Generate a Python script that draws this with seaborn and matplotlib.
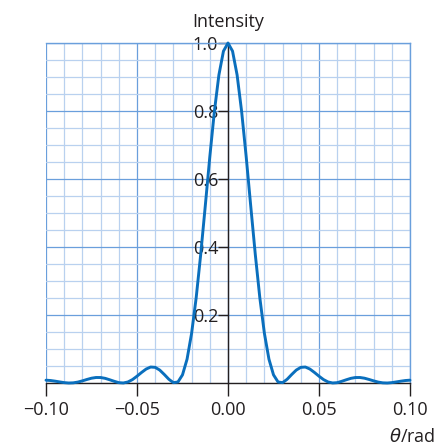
import matplotlib
matplotlib.use("Agg")
import matplotlib.pyplot as plt
import seaborn as sns
import pandas as pd
from matplotlib.ticker import MultipleLocator

sns.set_style("white")
plt.rcParams['font.family'] = ['Open Sans', 'DejaVu Sans']
plt.rcParams['mathtext.fontset'] = 'dejavusans'

# right half of the diffraction pattern (theta >= 0)
half_theta = [0.0, 0.0025, 0.005, 0.0075, 0.01, 0.0125, 0.015, 0.0175, 0.02, 0.0225,
              0.025, 0.0275, 0.03, 0.0325, 0.035, 0.0375, 0.04, 0.0425, 0.045, 0.0475,
              0.05, 0.0525, 0.055, 0.0575, 0.06, 0.0625, 0.065, 0.0675, 0.07, 0.0725,
              0.075, 0.0775, 0.08, 0.0825, 0.085, 0.0875, 0.09, 0.0925, 0.095, 0.0975, 0.1]
half_intensity = [1.0, 0.976, 0.906, 0.798, 0.665, 0.520, 0.378, 0.250, 0.146, 0.070,
                  0.024, 0.003, 0.001, 0.011, 0.025, 0.038, 0.046, 0.047, 0.041, 0.031,
                  0.020, 0.010, 0.003, 0.0001, 0.001, 0.005, 0.0095, 0.0137, 0.0161, 0.0162,
                  0.0141, 0.0104, 0.0063, 0.0027, 0.0005, 0.0, 0.0011, 0.0032, 0.0054, 0.0073, 0.0083]

theta = [-t for t in reversed(half_theta)] + half_theta[1:]
intensity = list(reversed(half_intensity)) + half_intensity[1:]

x_ticks = [-0.10, -0.05, 0.00, 0.05, 0.10]
x_tick_labels = ["\u22120.10", "\u22120.05", "0.00", "0.05", "0.10"]
y_ticks = [0.2, 0.4, 0.6, 0.8, 1.0]
y_tick_labels = ["0.2", "0.4", "0.6", "0.8", "1.0"]

df = pd.DataFrame({"theta": theta, "intensity": intensity})

fig = plt.figure(figsize=(4.37, 4.48), dpi=100)
ax = fig.add_axes([46/437, 65/448, 364/437, 340/448])

major_c = "#6a9fdc"
minor_c = "#b9d1ef"
text_c = "#231f20"

ax.set_xlim(-0.1, 0.1)
ax.set_ylim(0, 1.0)
ax.xaxis.set_minor_locator(MultipleLocator(0.01))
ax.yaxis.set_minor_locator(MultipleLocator(0.05))
ax.set_xticks(x_ticks)
ax.set_xticklabels(x_tick_labels)
ax.set_yticks(y_ticks)
ax.set_yticklabels(y_tick_labels)
ax.grid(which="minor", color=minor_c, lw=0.9)
ax.grid(which="major", color=major_c, lw=0.9)
ax.set_axisbelow(True)

sns.lineplot(data=df, x="theta", y="intensity", ax=ax, color="#0a6fbd", lw=2.1,
             zorder=5, clip_on=False)

ax.spines['left'].set_position(('data', 0))
ax.spines['left'].set_color(text_c)
ax.spines['left'].set_linewidth(1.0)
ax.spines['bottom'].set_color(text_c)
ax.spines['bottom'].set_linewidth(1.0)
ax.spines['top'].set_color(major_c)
ax.spines['right'].set_color(major_c)
ax.spines['top'].set_linewidth(1.0)
ax.spines['right'].set_linewidth(1.0)

ax.tick_params(axis='x', which='major', direction='out', length=9, width=1.0,
               color=text_c, labelsize=13, pad=4, labelcolor=text_c, bottom=True)
ax.tick_params(axis='y', which='major', direction='out', length=7, width=1.0,
               color=text_c, labelsize=13, pad=0, labelcolor=text_c, left=True)
ax.tick_params(which='minor', length=0)

ax.set_xlabel("")
ax.set_ylabel("")
fig.text(228/437, 1 - 22/448, "Intensity", ha="center", va="center", fontsize=13,
         color=text_c)
fig.text(435/437, 1 - 437/448, r"$\theta$/rad", ha="right", va="center", fontsize=13,
         color=text_c)

fig.savefig("out.png", dpi=100)
